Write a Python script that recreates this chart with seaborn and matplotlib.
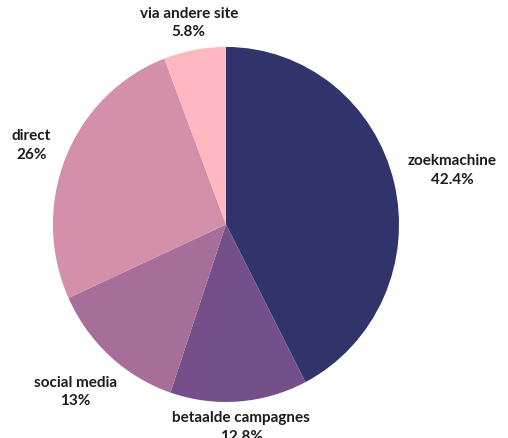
import numpy as np
import matplotlib
matplotlib.use("Agg")
import matplotlib.pyplot as plt
import seaborn as sns

# Traffic sources (share of visits, %)
sources = ["zoekmachine", "betaalde campagnes", "social media", "direct", "via andere site"]
shares = [42.4, 12.8, 13.0, 26.0, 5.8]
share_labels = ["42.4%", "12.8%", "13%", "26%", "5.8%"]
colors = ["#30346b", "#744f8a", "#a66e98", "#d48fab", "#ffb8c0"]

sns.set_theme(style="white")
plt.rcParams["font.family"] = ["Lato", "DejaVu Sans"]

fig = plt.figure(figsize=(5.08, 4.39), dpi=100)
ax = fig.add_axes([0, 0, 1, 1])
ax.axis("off")

wedges, _ = ax.pie(shares, colors=colors, startangle=90, counterclock=False,
                   wedgeprops=dict(linewidth=0))
ax.set_aspect("auto")
ax.set_xlim(-1.306, 1.630)
ax.set_ylim(-1.203, 1.270)

fig.canvas.draw()
renderer = fig.canvas.get_renderer()
center_px = ax.transData.transform((0, 0))
gap_px = 186.0  # distance from pie centre to nearest edge of each label box

for w, name, lab in zip(wedges, sources, share_labels):
    mid = np.deg2rad((w.theta1 + w.theta2) / 2)
    u = np.array([np.cos(mid), np.sin(mid)])
    t = ax.text(0, 0, f"{name}\n{lab}", ha="center", va="center",
                multialignment="center", fontsize=11, fontweight="bold",
                color="#1c1c1c", linespacing=1.4)
    bb = t.get_window_extent(renderer)
    hw, hh = bb.width / 2, bb.height / 2

    def nearest(d):
        c = d * u
        dx = max(abs(c[0]) - hw, 0)
        dy = max(abs(c[1]) - hh, 0)
        return np.hypot(dx, dy)

    lo, hi = 0.0, 600.0
    for _ in range(60):
        m = (lo + hi) / 2
        if nearest(m) < gap_px:
            lo = m
        else:
            hi = m
    pos_px = center_px + lo * u
    t.set_position(ax.transData.inverted().transform(pos_px))

fig.savefig("out.png", dpi=100, facecolor="white")
